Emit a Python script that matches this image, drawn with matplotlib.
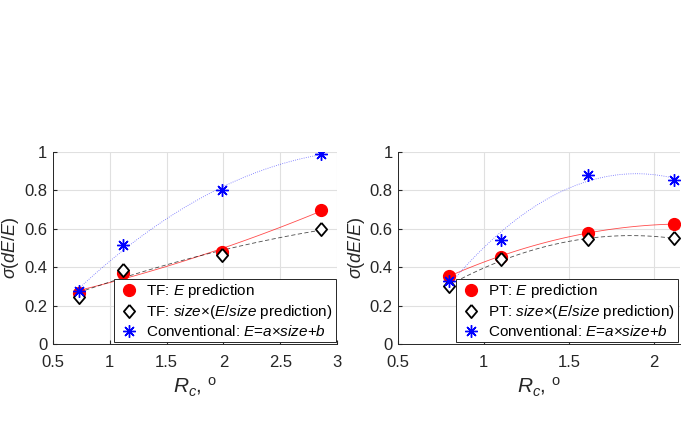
import numpy as np
import matplotlib
matplotlib.use("Agg")
import matplotlib.pyplot as plt

plt.rcParams['font.family'] = ['Liberation Sans', 'DejaVu Sans']
plt.rcParams['mathtext.fontset'] = 'custom'
plt.rcParams['mathtext.rm'] = 'Liberation Sans'
plt.rcParams['mathtext.it'] = 'Liberation Sans:italic'
plt.rcParams['mathtext.cal'] = 'DejaVu Serif:italic'

# left panel: TF
tf_x = [0.73, 1.12, 1.99, 2.86]
tf_e = [0.263, 0.367, 0.48, 0.697]
tf_size = [0.246, 0.385, 0.463, 0.60]
tf_conv = [0.274, 0.515, 0.80, 0.99]

# right panel: PT
pt_x = [0.80, 1.104, 1.61, 2.118]
pt_e = [0.355, 0.455, 0.58, 0.623]
pt_size = [0.304, 0.44, 0.544, 0.551]
pt_conv = [0.33, 0.54, 0.88, 0.852]

panels = [
    ("TF", tf_x, tf_e, tf_size, tf_conv, [0.5, 3], [0.5, 1, 1.5, 2, 2.5, 3], [0.076, 0.2304, 0.409, 0.43]),
    ("PT", pt_x, pt_e, pt_size, pt_conv, [0.5, 2.15], [0.5, 1, 1.5, 2], [0.573, 0.2304, 0.405, 0.43]),
]

diamond = [(0, 1), (0.85, 0), (0, -1), (-0.85, 0), (0, 1)]

fig = plt.figure(figsize=(6.95, 4.47), dpi=100)
axis_col = '#262626'

for name, x, e, sz, conv, xlim, xticks, pos in panels:
    ax = fig.add_axes(pos)
    xs = np.linspace(min(x), max(x), 100)
    # quadratic fits drawn through the points
    ax.plot(xs, np.polyval(np.polyfit(x, e, 2), xs), '-', color='red', lw=0.6, alpha=0.7)
    ax.plot(xs, np.polyval(np.polyfit(x, sz, 2), xs), '--', color='k', lw=0.6, alpha=0.7, dashes=(5, 3))
    ax.plot(xs, np.polyval(np.polyfit(x, conv, 2), xs), ':', color='blue', lw=0.6, alpha=0.6)

    ax.plot(x, e, 'o', color='red', ms=8.5, label='%s: $E$ prediction' % name)
    ax.plot(x, sz, marker=diamond, ls='none', mfc='white', mec='black', mew=1.3, ms=9.5,
            label=r'%s: $size$$\times$($E$/$size$ prediction)' % name)
    ax.plot(x, conv, marker=(8, 2, 0), ls='none', color='blue', mew=1.0, ms=9,
            label=r'Conventional: $E$=$a$$\times$$size$+$b$')

    ax.set_xlim(xlim)
    ax.set_ylim(0, 1)
    ax.set_xticks(xticks)
    ax.set_xticklabels([('%g' % t) for t in xticks])
    ax.set_yticks([0, 0.2, 0.4, 0.6, 0.8, 1])
    ax.set_yticklabels(['0', '0.2', '0.4', '0.6', '0.8', '1'])
    ax.grid(True, color='#e0e0e0', lw=0.8)
    ax.set_axisbelow(True)
    for s in ['top', 'right']:
        ax.spines[s].set_visible(False)
    for s in ['left', 'bottom']:
        ax.spines[s].set_color(axis_col)
        ax.spines[s].set_linewidth(0.7)
    ax.tick_params(direction='in', length=3, colors=axis_col, labelsize=12, pad=4)
    ax.tick_params(axis='x', pad=8)
    ax.set_xlabel(r'$R_c$, $^{\rm o}$', fontsize=15, color=axis_col, labelpad=4)
    ax.set_ylabel(r'$\sigma$($dE$/$E$)', fontsize=13, color=axis_col, labelpad=2)

    leg = ax.legend(loc='lower right', fontsize=11, handlelength=1.6, handletextpad=0.3,
                    borderpad=0.2, labelspacing=0.2, fancybox=False, framealpha=1,
                    borderaxespad=0.1)
    leg.get_frame().set_edgecolor(axis_col)
    leg.get_frame().set_linewidth(0.7)

fig.savefig('out.png', dpi=100)
